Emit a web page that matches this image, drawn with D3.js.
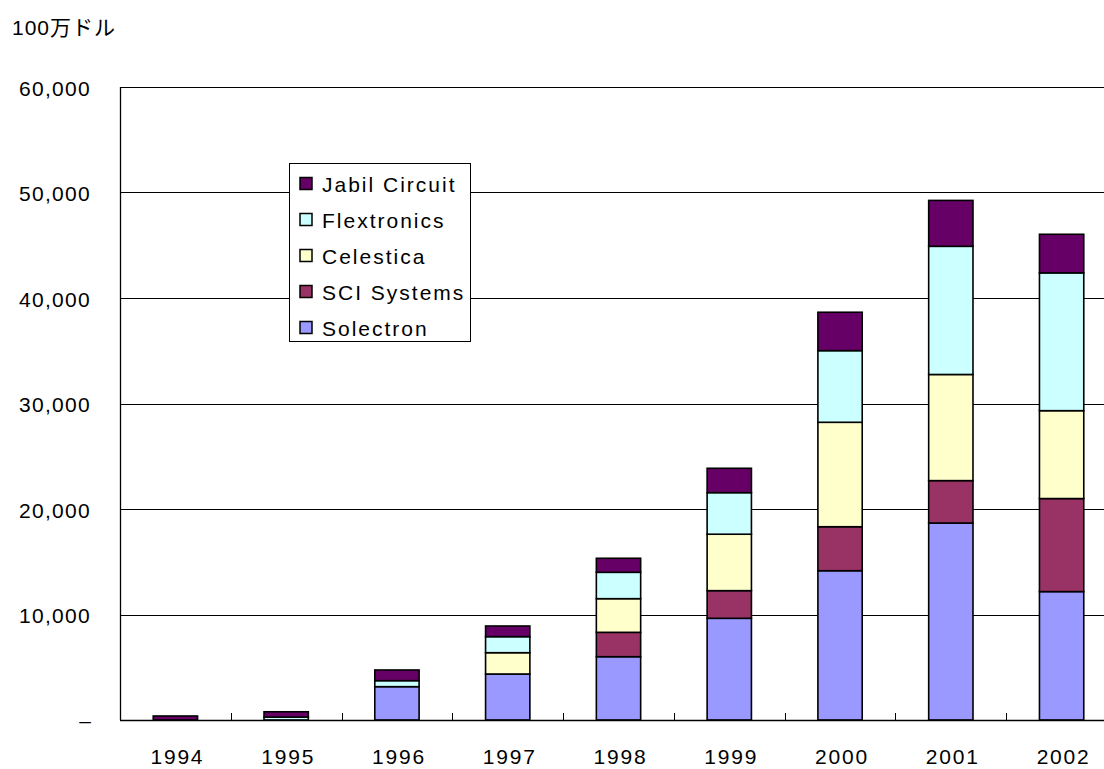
<!DOCTYPE html>
<html><head><meta charset="utf-8">
<script src="https://cdn.jsdelivr.net/npm/d3@7"></script>
<style>
body{margin:0;background:#fff;}
text{font-family:"Liberation Sans","Noto Sans CJK JP",sans-serif;fill:#000;}
</style></head>
<body><svg id="c" width="1104" height="769"></svg>
<script>
const years = ["1994","1995","1996","1997","1998","1999","2000","2001","2002"];
const seriesNames = ["Solectron","SCI Systems","Celestica","Flextronics","Jabil Circuit"];
const solectron   = [0,    0,   3160, 4360, 6000, 9640, 14150, 18670, 12170];
const sciSystems  = [0,    0,   0,    0,    2310, 2620, 4170,  4020,  8820];
const celestica   = [0,    0,   0,    2020, 3190, 5350, 9900,  10060, 8330];
const flextronics = [0,    280, 570,  1520, 2500, 3940, 6790,  12150, 13060];
const jabil       = [380,  500, 1010, 1010, 1330, 2310, 3640,  4350,  3660];
const yTicks = [0,10000,20000,30000,40000,50000,60000];
const colors = ["#9999FF","#993366","#FFFFCC","#CCFFFF","#660066"];
const unitLabel = "100万ドル";

(function(){
const svg = d3.select("#c");
const pLeft = 120, pRight = 1117, pTop = 87, pBottom = 720;

const x = d3.scaleBand().domain(years).range([pLeft, pRight]).paddingInner(0.6).paddingOuter(0.3);
const y = d3.scaleLinear().domain([0,60000]).range([pBottom, pTop]);

const table = years.map((yr,i)=>({year:yr, "Solectron":solectron[i], "SCI Systems":sciSystems[i],
  "Celestica":celestica[i], "Flextronics":flextronics[i], "Jabil Circuit":jabil[i]}));
const stacked = d3.stack().keys(seriesNames)(table);

// gridlines
svg.append("g").selectAll("line").data(yTicks.filter(d=>d>0)).join("line")
  .attr("x1", pLeft).attr("x2", 1104)
  .attr("y1", d=>Math.round(y(d))+0.5).attr("y2", d=>Math.round(y(d))+0.5)
  .attr("stroke","#000").attr("stroke-width",1);

// bars
const g = svg.append("g");
stacked.forEach((s,si)=>{
  g.selectAll(null).data(s.filter(d=>d[1]-d[0]>0)).join("rect")
    .attr("x", d=>x(d.data.year))
    .attr("width", x.bandwidth())
    .attr("y", d=>y(d[1]))
    .attr("height", d=>y(d[0])-y(d[1]))
    .attr("fill", colors[si])
    .attr("stroke","#000").attr("stroke-width",1.6);
});

// axes lines
svg.append("line").attr("x1",pLeft+0.5).attr("x2",pLeft+0.5).attr("y1",pTop).attr("y2",pBottom)
  .attr("stroke","#000").attr("stroke-width",1.3);
svg.append("line").attr("x1",pLeft).attr("x2",1104).attr("y1",pBottom+0.5).attr("y2",pBottom+0.5)
  .attr("stroke","#000").attr("stroke-width",1.5);
// category ticks (between categories, pointing up)
const bounds = d3.range(0, years.length+1).map(k=>pLeft + k*(pRight-pLeft)/years.length);
svg.append("g").selectAll("line").data(bounds.filter(b=>b<1104)).join("line")
  .attr("x1",d=>Math.round(d)+0.5).attr("x2",d=>Math.round(d)+0.5)
  .attr("y1",pBottom-7).attr("y2",pBottom).attr("stroke","#000").attr("stroke-width",1);

// y labels
const fmt = d3.format(",");
svg.append("g").selectAll("text").data(yTicks.filter(d=>d>0)).join("text")
  .attr("x", 91).attr("y", d=>y(d)+8.5)
  .attr("text-anchor", "end")
  .attr("font-size",21).attr("letter-spacing", 1.3)
  .text(d=>fmt(d));
svg.append("text").attr("x",85).attr("y",y(0)+8).attr("text-anchor","middle")
  .attr("font-size",21).text("–");

// x labels
svg.append("g").selectAll("text").data(years).join("text")
  .attr("x", d=>x(d)+x.bandwidth()/2+2).attr("y", 764)
  .attr("text-anchor","middle").attr("font-size",21).attr("letter-spacing",1.8)
  .text(d=>d);

// unit label
svg.append("text").attr("x",12).attr("y",35).attr("font-size",21).attr("letter-spacing",1).text(unitLabel);

// legend
const lg = svg.append("g");
lg.append("rect").attr("x",289.5).attr("y",163.5).attr("width",181).attr("height",178)
  .attr("fill","#fff").attr("stroke","#000").attr("stroke-width",1);
const legendOrder = seriesNames.slice().reverse();
legendOrder.forEach((name,i)=>{
  const cy = 184 + i*36;
  lg.append("rect").attr("x",300).attr("y",cy-6.5).attr("width",12).attr("height",12)
    .attr("fill", colors[seriesNames.indexOf(name)]).attr("stroke","#000").attr("stroke-width",1.5);
  lg.append("text").attr("x",322).attr("y",cy+7.7).attr("font-size",21).attr("letter-spacing",2.0).text(name);
});
})();
</script></body></html>
